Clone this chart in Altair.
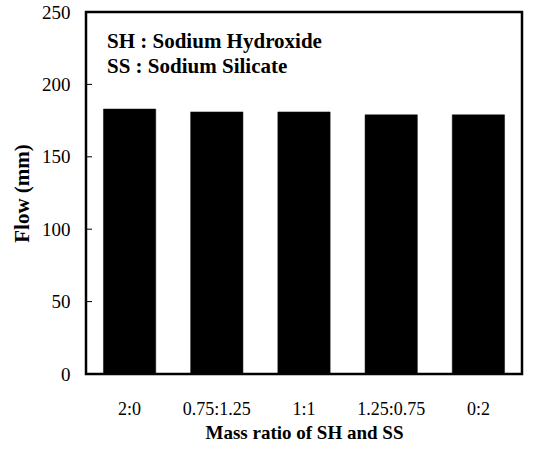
import altair as alt
import pandas as pd

# Flow of the mixes for each sodium hydroxide : sodium silicate mass ratio
ratios = ["2:0", "0.75:1.25", "1:1", "1.25:0.75", "0:2"]
flow_mm = [183, 181, 181, 179, 179]
y_ticks = [0, 50, 100, 150, 200, 250]
legend_lines = ["SH : Sodium Hydroxide", "SS : Sodium Silicate"]
legend_y = [229, 212]

bars_df = pd.DataFrame({"ratio": ratios, "flow": flow_mm})
ticks_df = pd.DataFrame({"v": y_ticks})
notes_df = pd.DataFrame({"text": legend_lines, "y": legend_y})

SERIF = "Times New Roman, Liberation Serif, serif"

y_scale = alt.Scale(domain=[0, 250], nice=False)

bars = alt.Chart(bars_df).mark_bar(color="#000000", stroke="#111111", strokeWidth=0.5).encode(
    x=alt.X(
        "ratio:N",
        sort=ratios,
        scale=alt.Scale(paddingInner=0.4, paddingOuter=0.2),
        axis=alt.Axis(
            title="Mass ratio of SH and SS",
            labelAngle=0,
            ticks=False,
            domain=False,
            labelPadding=26,
            labelFont=SERIF,
            labelFontSize=18,
            labelColor="black",
            titleFont=SERIF,
            titleFontSize=19,
            titleFontWeight="bold",
            titleColor="black",
            titlePadding=5,
        ),
    ),
    y=alt.Y(
        "flow:Q",
        scale=y_scale,
        axis=alt.Axis(
            title="Flow (mm)",
            values=y_ticks,
            ticks=False,
            domain=False,
            grid=False,
            labelPadding=16,
            labelFont=SERIF,
            labelFontSize=19,
            labelColor="black",
            titleFont=SERIF,
            titleFontSize=21,
            titleFontWeight="bold",
            titleColor="black",
            titlePadding=9,
        ),
    ),
)

# short inward tick marks along the left edge of the frame
ticks = alt.Chart(ticks_df).mark_rule(color="black", strokeWidth=1).encode(
    y=alt.Y("v:Q", scale=y_scale),
    x=alt.value(0),
    x2=alt.value(6),
)

notes = alt.Chart(notes_df).mark_text(
    align="left", baseline="middle", font=SERIF, fontSize=21, fontWeight="bold", color="black"
).encode(
    x=alt.value(21),
    y=alt.Y("y:Q", scale=y_scale),
    text="text:N",
)

chart = (
    alt.layer(bars, ticks, notes)
    .properties(
        width=436,
        height=362,
        autosize=alt.AutoSizeParams(type="none"),
        padding={"left": 86, "top": 12, "right": 11, "bottom": 77},
        background="white",
    )
    .configure_view(stroke="black", strokeWidth=2.5)
)

chart.save("out.html", embed_options={"renderer": "svg", "actions": False})
